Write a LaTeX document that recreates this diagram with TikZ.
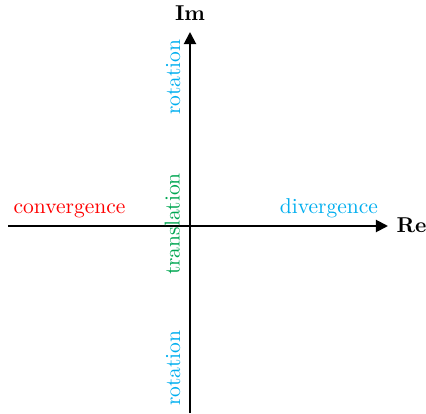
\documentclass[tikz,border=0pt]{standalone}
\usetikzlibrary{arrows.meta}
\definecolor{mycyan}{RGB}{0,174,239}
\definecolor{mygreen}{RGB}{0,166,81}
\begin{document}
\begin{tikzpicture}[x=0.465pt,y=-0.465pt,
  axis/.style={line width=0.9pt,-{Triangle[length=5.6pt,width=5.6pt]}},
  lbl/.style={inner sep=0pt,anchor=base},
  vlbl/.style={inner sep=0pt,anchor=base,rotate=90}]
\useasboundingbox (0,0) rectangle (426,414);
\coordinate (xs) at (8,226);
\coordinate (xe) at (388,226);
\coordinate (ys) at (190,413);
\coordinate (ye) at (190,32);
\draw[axis] (xs) -- (xe);
\draw[axis] (ys) -- (ye);
\node[lbl] (re) at (411.5,232) {\textbf{Re}};
\node[lbl] (im) at (190,20) {\textbf{Im}};
\node[lbl,text=red] (conv) at (69.5,213) {convergence};
\node[lbl,text=mycyan] (div) at (329,213) {divergence};
\node[vlbl,text=mycyan] (rot1) at (180,77) {rotation};
\node[vlbl,text=mygreen] (tr) at (179.5,224) {translation};
\node[vlbl,text=mycyan] (rot2) at (180,368) {rotation};
\end{tikzpicture}
\end{document}
